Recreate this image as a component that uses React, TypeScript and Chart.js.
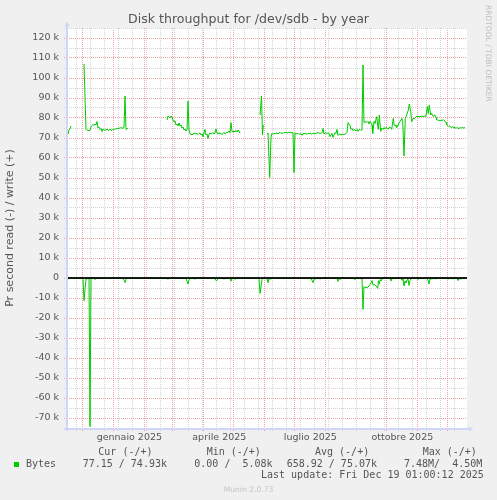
import React, { useEffect, useRef } from 'react';
import { Chart, registerables } from 'chart.js';
Chart.register(...registerables);

// ---------- text ----------
const TITLE = 'Disk throughput for /dev/sdb - by year';
const Y_TITLE = 'Pr second read (-) / write (+)';
const LEGEND_HEADERS = ['Cur (-/+)', 'Min (-/+)', 'Avg (-/+)', 'Max (-/+)'];
const SERIES_NAME = 'Bytes';
const LEGEND_VALUES = ['77.15 / 74.93k', '0.00 /  5.08k', '658.92 / 75.07k', '7.48M/  4.50M'];
const LAST_UPDATE = 'Last update: Fri Dec 19 01:00:12 2025';
const WATERMARK = 'RRDTOOL / TOBI OETIKER';
const VERSION = 'Munin 2.0.73';

// ---------- time axis ----------
const DAY = 86400000;
const START = Date.UTC(2024, 10, 15, 16); // left edge of the plot
const SPAN_DAYS = 400;
const monthStarts: [number, number][] = [
  [2024, 11], [2025, 0], [2025, 1], [2025, 2], [2025, 3], [2025, 4], [2025, 5],
  [2025, 6], [2025, 7], [2025, 8], [2025, 9], [2025, 10], [2025, 11],
];
const labelMonths: [number, number][] = [[2025, 0], [2025, 3], [2025, 6], [2025, 9]];
const monthLabels = ['gennaio 2025', 'aprile 2025', 'luglio 2025', 'ottobre 2025'];
const FIRST_MINOR = Date.UTC(2024, 10, 25); // bi-weekly minor grid (Mondays)

// ---------- data: [day offset from plot start, kB/s] ----------
const writeNov: [number, number][] = [[0, 75], [1, 72], [2, 74], [3, 74.5], [4, 76]];
const writeDecJan: [number, number][] = [
  [17, 107], [19, 74.3], [20, 73.8], [21, 74], [22, 73.5], [23, 74], [24, 75.5], [25, 76.2],
  [26, 76.8], [27, 76.3], [28, 77], [29, 76.5], [30, 78.2], [31, 75], [32, 75.5], [33, 74.3],
  [34, 74.8], [35, 73.2], [36, 74.5], [37, 74], [38, 73.8], [39, 74.2], [40, 74.5], [41, 74],
  [42, 73.8], [43, 74.4], [44, 74], [45, 73.8], [46, 74.4], [47, 74.5], [48, 74.2], [49, 74.8],
  [50, 74.5], [51, 75], [52, 74.8], [53, 75], [54, 75.2], [55, 74.9], [56, 75], [57, 75.3],
  [58, 91], [59, 74.3], [60, 74.5], [61, 75],
];
const writeFebMay: [number, number][] = [
  [100, 79], [101, 81], [102, 80.5], [103, 80], [104, 81], [105, 80.5], [106, 79], [107, 78],
  [108, 78.5], [109, 76.5], [110, 77], [111, 76], [112, 77.5], [113, 76], [114, 76.5], [115, 75],
  [116, 75.5], [117, 74], [118, 74.5], [119, 73.5], [120, 74], [121, 88.5], [122, 74], [123, 72],
  [124, 72], [125, 71.5], [126, 72], [127, 72.3], [128, 72.3], [129, 72.5], [130, 72], [131, 71.8],
  [132, 72.3], [133, 72.5], [134, 71.5], [135, 72], [136, 70.5], [137, 72.5], [138, 74.3], [139, 71.5],
  [140, 72], [141, 69.8], [142, 71.8], [143, 72.5], [144, 72], [145, 72.3], [146, 72.8], [147, 72],
  [148, 72.5], [149, 74.5], [150, 72.5], [151, 72], [152, 72.7], [153, 72], [154, 72.3], [155, 71.6],
  [156, 72.3], [157, 72.8], [158, 72], [159, 72.5], [160, 73], [161, 72.8], [162, 73.5], [163, 72.6],
  [164, 77.7], [165, 73.2], [166, 73], [167, 73.5], [168, 73], [169, 73.8], [170, 73], [171, 74],
  [172, 73.5], [173, 72.3],
];
const writeLateMay: [number, number][] = [[193, 81.5], [194.5, 91], [195.5, 71.5], [196.3, 76.5]];
const writeJunDec: [number, number][] = [
  [200, 71.8], [201, 72.5], [202.7, 50.3], [204, 70.3], [205, 72.3], [206, 71.8], [207, 72.4], [208, 72],
  [209, 72.3], [210, 72.6], [211, 72], [212, 72.5], [213, 72.8], [214, 72.2], [215, 72.6], [216, 72.3],
  [217, 72.8], [218, 72.5], [219, 73], [220, 72.4], [221, 72.7], [222, 73], [223, 72.6], [224, 72.8],
  [225, 72.5], [226, 72.7], [227, 52.7], [228, 72.5], [229, 72.3], [230, 72], [231, 72.3], [232, 71.8],
  [233, 72.2], [234, 72], [235, 71.3], [236, 72.3], [237, 72], [238, 72.5], [239, 72.2], [240, 71.8],
  [241, 72.4], [242, 72], [243, 72.6], [244, 72.2], [245, 71.8], [246, 72.5], [247, 72.3], [248, 72],
  [249, 72.6], [250, 72.4], [251, 72.8], [252, 72.3], [253, 72.6], [254, 72.2], [255, 72.8], [256, 74.8],
  [257, 72], [258, 72.5], [259, 72.6], [260, 72.2], [261, 72.6], [262, 72.3], [263, 70.7], [264, 71.5],
  [265, 72.3], [266, 70.3], [267, 71.5], [268, 72.7], [269, 72.3], [270, 74.3], [271, 71.3], [272, 71.8],
  [273, 72], [274, 71.5], [275, 71.8], [276, 72], [277, 71.6], [278, 72], [279, 72.2], [280, 72.7],
  [281, 77.7], [282, 76.8], [283, 76.5], [284, 74.3], [285, 74.8], [286, 73.7], [287, 74.3], [288, 74],
  [289, 73.6], [290, 74.3], [291, 73.3], [292, 74], [293, 74.3], [294, 73.8], [295, 74], [296, 106.5],
  [297, 77.7], [298, 77.9], [299, 78.2], [300, 77.8], [301, 78.3], [302, 77], [303, 78.3], [304, 77.5],
  [305, 76.5], [305.7, 72.3], [307, 78.3], [308, 77.2], [309.7, 80.7], [311.3, 74.3], [312.3, 81.5], [313.7, 73.3],
  [314.7, 75], [315.5, 74.5], [316.3, 74.3], [317, 75.2], [318, 74.5], [319, 75.3], [320, 75], [321.3, 74.5],
  [322, 75.2], [323, 75.5], [324.7, 74.3], [326.3, 79.8], [327, 77], [328, 76], [329, 76.3], [329.7, 75.3],
  [330.5, 76], [331.3, 76.5], [332, 77.5], [333, 78.3], [334, 79], [334.7, 79.8], [335.7, 78.7], [337, 61],
  [338.3, 79.8], [339.7, 81.5], [341.3, 84], [342.3, 87], [343.7, 83.3], [344.7, 78.2], [345.5, 79], [346.3, 79.8],
  [347, 79.5], [348, 80], [349, 80.6], [350, 80.8], [351, 80.6], [352, 80.9], [353, 80.7], [354, 80.8],
  [355, 81], [356, 80.7], [357, 80.9], [358, 80.8], [359, 81], [360.3, 85.7], [361.3, 82.3], [362.3, 86.5],
  [363.7, 81.5], [364.7, 82.3], [365.5, 81.3], [366.3, 80.7], [367, 81.3], [368, 81.5], [369, 80.2], [369.7, 79.2],
  [370.5, 79], [371.3, 78.8], [372, 79], [373, 78.6], [374, 79], [375, 78.7], [376.3, 79.2], [377, 78.8],
  [378, 78.5], [379, 77.8], [379.7, 76.5], [380.5, 76.2], [381.3, 75.8], [382, 76.2], [383, 75.8], [384, 75.5],
  [385, 75.2], [386, 75.8], [387, 75], [388, 75.4], [389, 74.8], [390, 75.3], [391, 75], [392, 74.6],
  [393, 75.3], [394, 74.8], [395, 75.4], [396, 74.9], [397, 75.2], [398, 75.1],
];
const readAll: [number, number][] = [
  [0, -2], [1, -0.3], [3, -0.2], [16, -0.2], [17, -11.3], [19, -0.4], [22, -0.3], [23, -74.3],
  [24, -0.3], [27, -0.2], [28, -0.8], [29, -0.2], [56, -0.2], [57, -1], [58, -2.3], [59, -0.8],
  [60, -0.2], [100, -0.2], [101, -0.7], [102, -0.2], [119, -0.2], [120, -1.5], [121, -3], [122, -1],
  [123, -0.2], [127, -0.2], [128, -0.6], [129, -0.2], [148, -0.2], [149, -1.3], [150, -1.2], [151, -0.2],
  [156, -0.2], [157, -0.6], [158, -0.2], [163, -0.2], [164, -1.6], [165, -0.3], [167, -0.2], [168, -0.7],
  [169, -0.2], [192, -0.2], [193, -7.7], [195, -0.7], [196, -0.2], [200, -0.2], [201, -2.3], [202, -0.3],
  [204, -0.5], [205, -0.2], [244, -0.2], [245, -1.2], [246, -2.3], [247, -0.5], [252, -0.2], [253, -0.5],
  [254, -0.2], [270, -0.2], [271, -1.7], [272, -0.4], [274, -0.5], [275, -0.2], [287, -0.2], [288, -0.9],
  [289, -0.2], [295, -0.3], [296, -15.7], [297, -4.3], [298, -4.8], [299, -4.6], [300, -4.8], [301, -4.5],
  [302, -4], [303, -3.3], [304, -2.5], [305, -1.3], [306, -3.5], [307, -3.3], [308, -3.6], [309, -3.8],
  [310.7, -5.2], [311.5, -1.3], [312.3, -3], [313.3, -0.8], [314, -1.5], [315, -0.5], [316, -0.2], [323, -0.2],
  [324, -1.5], [325, -0.3], [334, -0.2], [335, -1.2], [336, -0.5], [337, -4], [338, -1.5], [339, -2.5],
  [340, -1], [341, -0.6], [342, -3.7], [343, -1.2], [344, -0.4], [345, -0.2], [350, -0.2], [351, -0.8],
  [352, -0.2], [360, -0.3], [361, -1], [362, -3], [363, -0.5], [368, -0.2], [369, -0.5], [370, -0.2],
  [380, -0.2], [381, -0.6], [382, -0.2], [385, -0.2], [386, -0.5], [387, -0.2], [390, -0.2], [391, -1.3],
  [392, -0.3], [394, -0.5], [395, -0.2], [398, -0.1],
];

// ---------- styles ----------
const GREEN = '#00CC00';
const TEXT = '#555555';
const MAJOR = '#EFA0A0';
const MINOR = '#D4D4D4';
const AXIS = '#CFD6F8';

const toPoints = (segs: [number, number][][]) => {
  const out: { x: number; y: number | null }[] = [];
  segs.forEach((seg, i) => {
    if (i > 0) out.push({ x: seg[0][0] - 0.5, y: null });
    seg.forEach(([d, k]) => out.push({ x: d, y: k * 1000 }));
  });
  return out;
};

const dayOf = (t: number) => (t - START) / DAY;

const framePlugin = {
  id: 'frame',
  beforeDraw(chart: any) {
    const { ctx, chartArea: a } = chart;
    ctx.save();
    ctx.fillStyle = '#F0F0F0';
    ctx.fillRect(0, 0, chart.width, chart.height);
    ctx.fillStyle = '#FFFFFF';
    ctx.fillRect(a.left, a.top, a.right - a.left, a.bottom - a.top);
    ctx.restore();
  },
  afterDatasetsDraw(chart: any) {
    const { ctx, chartArea: a, scales } = chart;
    const y0 = Math.round(scales.y.getPixelForValue(0));
    ctx.save();
    // zero rule
    ctx.fillStyle = 'rgba(0,0,0,0.88)';
    ctx.fillRect(a.left, y0 - 1, a.right - a.left, 2);
    ctx.fillStyle = AXIS;
    // left axis + arrow
    ctx.fillRect(a.left - 1, a.top - 2, 2, a.bottom - a.top + 5);
    ctx.beginPath();
    ctx.moveTo(a.left, a.top - 6.5);
    ctx.lineTo(a.left - 2.5, a.top - 1.5);
    ctx.lineTo(a.left + 2.5, a.top - 1.5);
    ctx.closePath();
    ctx.fill();
    // bottom axis + arrow
    ctx.fillRect(a.left - 3, a.bottom, a.right - a.left + 5, 2);
    ctx.beginPath();
    ctx.moveTo(a.right + 6.5, a.bottom + 1);
    ctx.lineTo(a.right + 1.5, a.bottom - 1.5);
    ctx.lineTo(a.right + 1.5, a.bottom + 3.5);
    ctx.closePath();
    ctx.fill();
    ctx.restore();
  },
};

export default function App() {
  const ref = useRef<HTMLCanvasElement>(null);

  useEffect(() => {
    if (!ref.current) return;
    const monthTicks = monthStarts.map(([y, m]) => dayOf(Date.UTC(y, m, 1)));
    const minorTicks: number[] = [];
    for (let d = dayOf(FIRST_MINOR); d < SPAN_DAYS; d += 14) minorTicks.push(d);
    const labelTicks = labelMonths.map(([y, m]) => dayOf(Date.UTC(y, m, 1)) + 16);
    const kind = new Map<number, string>();
    minorTicks.forEach((v) => kind.set(v, 'minor'));
    monthTicks.forEach((v) => kind.set(v, 'major'));
    const labelOf = new Map<number, string>();
    labelTicks.forEach((v, i) => {
      kind.set(v, 'label');
      labelOf.set(v, monthLabels[i]);
    });
    const allTicks = Array.from(kind.keys()).sort((p, q) => p - q);

    const chart = new Chart(ref.current, {
      type: 'line',
      data: {
        datasets: [
          {
            label: 'write',
            data: toPoints([writeNov, writeDecJan, writeFebMay, writeLateMay, writeJunDec]) as any,
            borderColor: GREEN,
            borderWidth: 1,
            pointRadius: 0,
            tension: 0,
            spanGaps: false,
            fill: false,
          },
          {
            label: 'read',
            data: toPoints([readAll]) as any,
            borderColor: GREEN,
            borderWidth: 1,
            pointRadius: 0,
            tension: 0,
            spanGaps: false,
            fill: false,
          },
        ],
      },
      options: {
        animation: false,
        responsive: false,
        maintainAspectRatio: false,
        events: [],
        layout: { padding: { left: 0, right: 0, top: 0, bottom: 0 } },
        plugins: {
          legend: { display: false },
          tooltip: { enabled: false },
          title: {
            display: true,
            text: TITLE,
            color: TEXT,
            font: { family: 'DejaVu Sans', size: 12.6, weight: 'normal', lineHeight: 1.2 },
            padding: { top: 12, bottom: 0.88 },
          },
        },
        scales: {
          x: {
            type: 'linear',
            min: 0,
            max: SPAN_DAYS,
            afterBuildTicks: (s: any) => {
              s.ticks = allTicks.map((v) => ({ value: v }));
            },
            afterFit: (s: any) => {
              s.height = 72;
            },
            border: { display: false, dash: [1, 1] },
            grid: {
              color: (c: any) => {
                const k = kind.get(c.tick?.value);
                return k === 'major' ? MAJOR : k === 'minor' ? MINOR : 'rgba(0,0,0,0)';
              },
              lineWidth: 1,
              tickLength: 3,
              tickBorderDash: [1, 1],
            },
            ticks: {
              autoSkip: false,
              maxRotation: 0,
              minRotation: 0,
              padding: 1,
              color: TEXT,
              font: { family: 'DejaVu Sans', size: 9.5 },
              callback: (v: any) => labelOf.get(v) ?? '',
            },
          },
          y: {
            type: 'linear',
            min: -75000,
            max: 125000,
            afterFit: (s: any) => {
              s.width = 67;
            },
            border: { display: false, dash: [1, 1] },
            grid: {
              color: (c: any) => (c.tick && c.tick.value % 10000 === 0 ? MAJOR : MINOR),
              lineWidth: 1,
              tickLength: 3,
              tickBorderDash: [1, 1],
            },
            ticks: {
              stepSize: 5000,
              autoSkip: false,
              padding: 5,
              color: TEXT,
              font: { family: 'DejaVu Sans', size: 9.5 },
              callback: (v: any) => (v % 10000 === 0 ? (v === 0 ? '0' : `${v / 1000} k`) : ''),
            },
            title: {
              display: true,
              text: Y_TITLE,
              color: TEXT,
              font: { family: 'DejaVu Sans', size: 11 },
              padding: { top: 4, bottom: 0 },
            },
          },
          yPad: {
            type: 'linear',
            position: 'right',
            display: true,
            grid: { display: false },
            border: { display: false },
            ticks: { display: false },
            afterFit: (s: any) => {
              s.width = 30;
            },
          },
        },
      } as any,
      plugins: [framePlugin],
    });
    return () => chart.destroy();
  }, []);

  const mono: React.CSSProperties = {
    position: 'absolute',
    font: '10px "DejaVu Sans Mono"',
    lineHeight: '10px',
    color: TEXT,
    whiteSpace: 'pre',
  };
  const headerX = [98.3, 206.7, 315, 422.7];
  const valueX = [82.7, 194.3, 286.7, 404];

  return (
    <div style={{ position: 'fixed', left: 0, top: 0, width: 497, height: 500, background: '#F0F0F0' }}>
      <canvas ref={ref} width={497} height={500} style={{ position: 'absolute', left: 0, top: 0 }} />
      {LEGEND_HEADERS.map((t, i) => (
        <div key={t} style={{ ...mono, left: headerX[i], top: 455.4 - 8.46 }}>{t}</div>
      ))}
      <div style={{ position: 'absolute', left: 14, top: 462, width: 5, height: 5, background: GREEN }} />
      <div style={{ ...mono, left: 26, top: 467.2 - 8.46 }}>{SERIES_NAME}</div>
      {LEGEND_VALUES.map((t, i) => (
        <div key={t} style={{ ...mono, left: valueX[i], top: 467.2 - 8.46 }}>{t}</div>
      ))}
      <div style={{ ...mono, left: 261, top: 478.7 - 8.46 }}>{LAST_UPDATE}</div>
      <div
        style={{
          position: 'absolute',
          left: 0,
          width: 497,
          top: 485.6,
          textAlign: 'center',
          font: '7.6px "DejaVu Sans"',
          lineHeight: '7.6px',
          color: '#C4C4C4',
          whiteSpace: 'pre',
        }}
      >
        {VERSION}
      </div>
      <div
        style={{
          position: 'absolute',
          left: 484,
          top: 5,
          writingMode: 'vertical-rl',
          font: '7.5px "DejaVu Sans"',
          lineHeight: '8px',
          color: '#BDBDBD',
          whiteSpace: 'pre',
        }}
      >
        {WATERMARK}
      </div>
    </div>
  );
}
